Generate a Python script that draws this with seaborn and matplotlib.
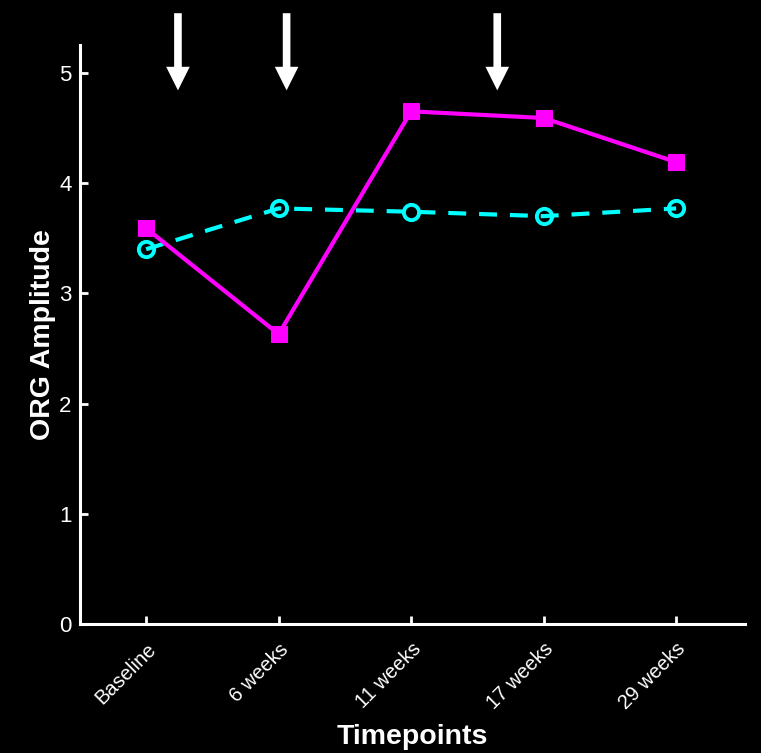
"""ORG amplitude over timepoints, two series on a black background."""

import matplotlib
matplotlib.use("Agg")
import matplotlib.pyplot as plt
import pandas as pd
import seaborn as sns

timepoints = ["Baseline", "6 weeks", "11 weeks", "17 weeks", "29 weeks"]
treated = [3.59, 2.63, 4.65, 4.59, 4.19]
control = [3.40, 3.77, 3.74, 3.70, 3.77]
arrow_x = [0.24, 1.06, 2.65]
yticks = [0, 1, 2, 3, 4, 5]

MAGENTA = "#ff00ff"
CYAN = "#00ffff"

sns.set_style("dark", {"axes.facecolor": "black", "figure.facecolor": "black",
                       "xtick.direction": "in", "ytick.direction": "in",
                       "xtick.bottom": True, "ytick.left": True})
plt.rcParams["font.family"] = ["Liberation Sans", "DejaVu Sans"]

df = pd.DataFrame({"time": timepoints, "treated": treated, "control": control})

fig = plt.figure(figsize=(7.61, 7.53), dpi=100, facecolor="black")
ax = fig.add_axes([0.105, 0.171, 0.874, 0.769])
ax.set_facecolor("black")

sns.lineplot(data=df, x="time", y="control", ax=ax, color=CYAN, lw=3,
             linestyle=(0, (4.3, 3.1)), marker="o", markersize=11,
             markerfacecolor="none", markeredgecolor=CYAN, markeredgewidth=2.8,
             sort=False)
sns.lineplot(data=df, x="time", y="treated", ax=ax, color=MAGENTA, lw=3,
             marker="s", markersize=11.5, markeredgecolor=MAGENTA, sort=False)

ax.set_xlim(-0.5, 4.52)
ax.set_ylim(0, 5.25)
ax.set_yticks(yticks)
ax.grid(False)

for s in ["top", "right"]:
    ax.spines[s].set_visible(False)
for s in ["left", "bottom"]:
    ax.spines[s].set_color("white")
    ax.spines[s].set_linewidth(2.2)

ax.tick_params(axis="both", direction="in", length=6, width=2, colors="white",
               labelsize=16, bottom=True, left=True)
ax.tick_params(axis="y", pad=6)
ax.tick_params(axis="x", labelsize=14.5, pad=11)
plt.setp(ax.get_xticklabels(), rotation=45, ha="right", rotation_mode="anchor")

ax.set_xlabel("Timepoints", color="white", fontsize=20.5, fontweight="bold", labelpad=8)
ax.set_ylabel("ORG Amplitude", color="white", fontsize=20.5, fontweight="bold", labelpad=2)

for xa in arrow_x:
    ax.annotate("", xy=(xa, 4.84), xytext=(xa, 5.54), xycoords="data",
                annotation_clip=False,
                arrowprops=dict(facecolor="white", edgecolor="none", width=5.5,
                                headwidth=17, headlength=17, shrink=0))

fig.savefig("out.png", dpi=100, facecolor="black")
plt.close(fig)
